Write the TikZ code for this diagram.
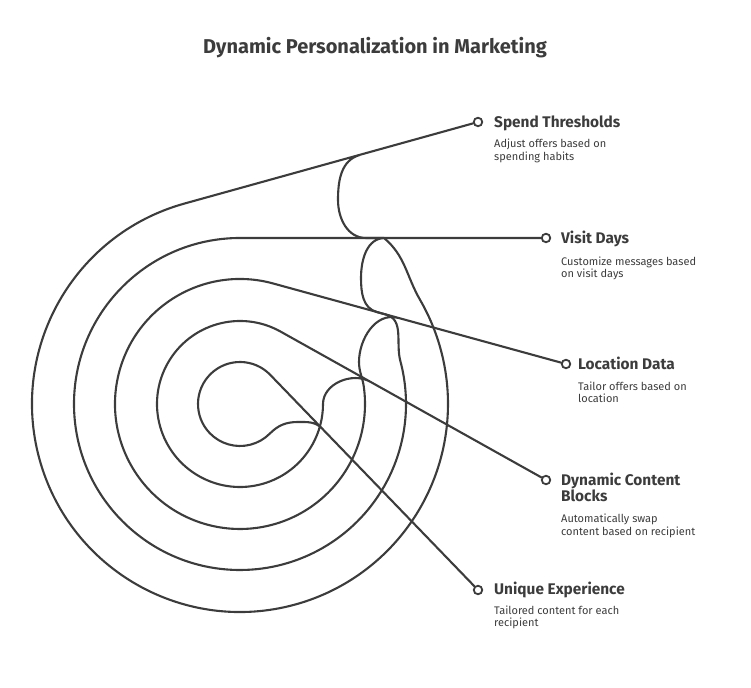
\documentclass[tikz,border=0pt]{standalone}
\usepackage{fontspec}
\setmainfont{Fira Sans}
\definecolor{ink}{HTML}{3C3C3C}
\tikzset{
  ring/.style={draw=ink, line width=2.1pt, line join=round, line cap=round},
  marker/.style={circle, draw=ink, fill=white, line width=1.8pt, minimum size=8.5pt, inner sep=0pt},
  ttl/.style={text=ink, font=\bfseries\fontsize{20}{24}\selectfont},
  head/.style={anchor=base west, inner sep=0pt, text=ink, font=\bfseries\fontsize{15.4}{18}\selectfont},
  desc/.style={anchor=base west, inner sep=0pt, text=ink, font=\fontsize{11}{13}\selectfont},
}
\begin{document}
\begin{tikzpicture}[x=1pt,y=1pt]
\useasboundingbox (0,0) rectangle (751,687);
\node[ttl] (title) at (375,639) {Dynamic Personalization in Marketing};

% markers
\node[marker] (m1) at (478,565) {};
\node[marker] (m2) at (546,449) {};
\node[marker] (m3) at (566,323) {};
\node[marker] (m4) at (546,207) {};
\node[marker] (m5) at (478,97) {};

% geometry
\coordinate (c) at (240,283);
\coordinate (t1) at ([shift={(c)}]105.53:208);
\coordinate (t2) at ([shift={(c)}]90:166);
\coordinate (t3) at ([shift={(c)}]74.63:125);
\coordinate (t4) at ([shift={(c)}]60.79:83);
\coordinate (t5) at ([shift={(c)}]44:42);

\coordinate (e1) at (384,449);
\coordinate (f1) at (366,449);
\coordinate (l1) at (338,487);
\coordinate (q1) at (360,532.1);

\coordinate (e2) at (386,372.4);
\coordinate (f2) at (377,374.9);
\coordinate (l2) at (361,409);
\coordinate (q2) at (385,449);

\coordinate (l3) at (359,325);
\coordinate (q3) at (398,369.1);

\coordinate (q4) at (370,305.4);

\coordinate (l5) at (298,265);
\coordinate (q5) at (322,258.5);

% rings
\draw[ring] (m1) -- (t1) arc[start angle=105.53, end angle=390, radius=208]
  to[out=120, in=-40] (e1) -- (f1) to[out=180, in=-90] (l1) to[out=90, in=195.5] (q1);
\draw[ring] (m2) -- (t2) arc[start angle=90, end angle=375, radius=166]
  to[out=105, in=-15.4] (e2) -- (f2) to[out=164.6, in=-90] (l2) to[out=90, in=180] (q2);
\draw[ring] (m3) -- (t3) arc[start angle=74.63, end angle=368, radius=125]
  to[out=98, in=-90] (l3) to[out=90, in=164.6] (q3);
\draw[ring] (m4) -- (t4) arc[start angle=60.79, end angle=360, radius=83]
  to[out=90, in=150.8] (q4);
\draw[ring] (m5) -- (t5) arc[start angle=44, end angle=315, radius=42]
  to[out=45, in=180] (l5) to[out=0, in=134] (q5);

% labels
\node[head] (h1) at (494,559) {Spend Thresholds};
\node[desc] (d1a) at (494,539) {Adjust offers based on};
\node[desc] (d1b) at (494,526.5) {spending habits};

\node[head] (h2) at (561,443) {Visit Days};
\node[desc] (d2a) at (561,421) {Customize messages based};
\node[desc] (d2b) at (561,409) {on visit days};

\node[head] (h3) at (578,317) {Location Data};
\node[desc] (d3a) at (578,296) {Tailor offers based on};
\node[desc] (d3b) at (578,284) {location};

\node[head] (h4a) at (561,201) {Dynamic Content};
\node[head] (h4b) at (561,185) {Blocks};
\node[desc] (d4a) at (561,164) {Automatically swap};
\node[desc] (d4b) at (561,151.5) {content based on recipient};

\node[head] (h5) at (494,92) {Unique Experience};
\node[desc] (d5a) at (494,72.5) {Tailored content for each};
\node[desc] (d5b) at (494,60) {recipient};
\end{tikzpicture}
\end{document}
